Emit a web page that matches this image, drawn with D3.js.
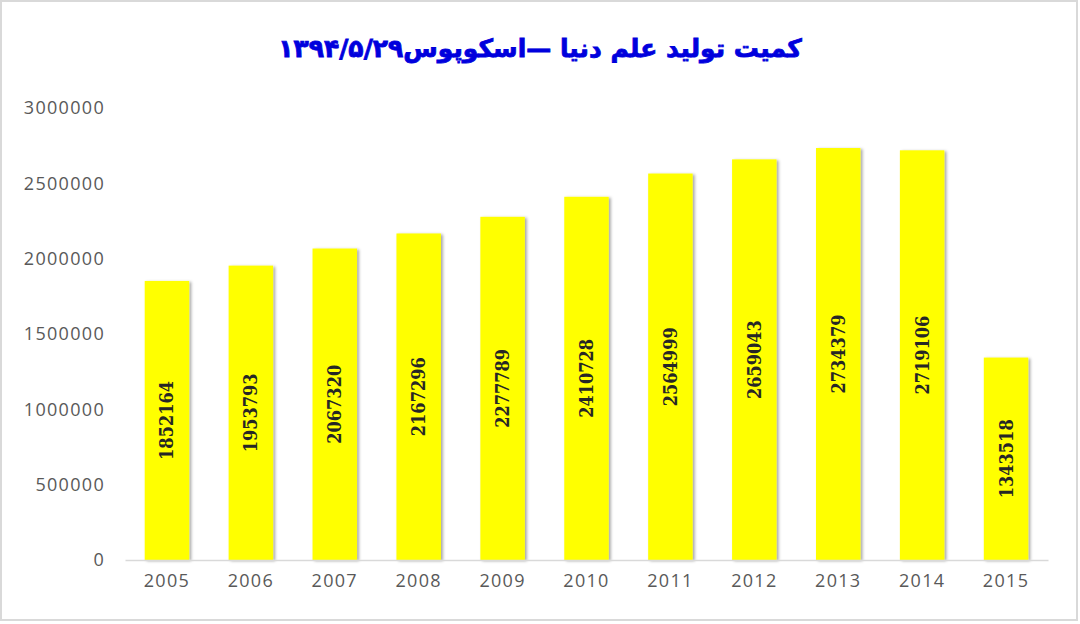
<!DOCTYPE html>
<html>
<head>
<meta charset="utf-8">
<script src="https://cdn.jsdelivr.net/npm/d3@7"></script>
<style>
  body { margin: 0; background: #fff; }
  svg text { font-family: "Open Sans", "Noto Sans", sans-serif; }
</style>
</head>
<body>
<svg id="chart"></svg>
<script>
const years = ["2005", "2006", "2007", "2008", "2009", "2010", "2011", "2012", "2013", "2014", "2015"];
const docs = [1852164, 1953793, 2067320, 2167296, 2277789, 2410728, 2564999, 2659043, 2734379, 2719106, 1343518];
const yTicks = [0, 500000, 1000000, 1500000, 2000000, 2500000, 3000000];
const title = "کمیت تولید علم دنیا —اسکوپوس۱۳۹۴/۵/۲۹";

const width = 1080, height = 624;
const margin = { top: 108, right: 32, bottom: 64, left: 125 };

const svg = d3.select("#chart")
  .attr("width", width)
  .attr("height", height);

// outer frame
svg.append("rect")
  .attr("x", 1).attr("y", 1)
  .attr("width", width - 4).attr("height", height - 5)
  .attr("fill", "#fff")
  .attr("stroke", "#d9d9d9")
  .attr("stroke-width", 2);

// soft shadow for the bars
const defs = svg.append("defs");
const shadow = defs.append("filter")
  .attr("id", "bar-shadow")
  .attr("x", "-20%").attr("y", "-5%")
  .attr("width", "150%").attr("height", "115%");
shadow.append("feDropShadow")
  .attr("dx", 2).attr("dy", 1)
  .attr("stdDeviation", 1.5)
  .attr("flood-color", "#000")
  .attr("flood-opacity", 0.35);

const x = d3.scaleBand()
  .domain(years)
  .range([margin.left, width - margin.right])
  .paddingInner(0.47)
  .paddingOuter(0.235);

const y = d3.scaleLinear()
  .domain([0, 3000000])
  .range([height - margin.bottom, margin.top]);

// title
svg.append("text")
  .attr("x", width / 2)
  .attr("y", 57)
  .attr("text-anchor", "middle")
  .attr("direction", "rtl")
  .style("font-family", "'DejaVu Sans', sans-serif")
  .style("font-weight", "bold")
  .style("font-size", "25px")
  .attr("fill", "#0000dd")
  .attr("stroke", "#0000dd")
  .attr("stroke-width", 0.8)
  .text(title);

// y axis (labels only)
const yAxis = svg.append("g")
  .attr("transform", `translate(${margin.left},0)`)
  .call(d3.axisLeft(y).tickValues(yTicks).tickFormat(d3.format("d")).tickSize(0).tickPadding(20));
yAxis.select(".domain").remove();
yAxis.selectAll("text")
  .attr("fill", "#595959")
  .style("font-size", "18px")
  .style("letter-spacing", "1.3px");

// bars
svg.append("g")
  .selectAll("rect")
  .data(docs)
  .join("rect")
  .attr("x", (d, i) => x(years[i]))
  .attr("y", d => y(d))
  .attr("width", x.bandwidth())
  .attr("height", d => y(0) - y(d))
  .attr("fill", "#ffff00")
  .attr("filter", "url(#bar-shadow)");

// x axis
const xAxis = svg.append("g")
  .attr("transform", `translate(0,${y(0)})`)
  .call(d3.axisBottom(x).tickSize(0).tickPadding(14));
xAxis.select(".domain")
  .attr("stroke", "#d9d9d9")
  .attr("stroke-width", 1.5);
xAxis.selectAll("text")
  .attr("fill", "#595959")
  .style("font-size", "18px")
  .style("letter-spacing", "1.3px");

// value labels inside bars, rotated
svg.append("g")
  .selectAll("text")
  .data(docs)
  .join("text")
  .attr("transform", (d, i) => {
    const cx = x(years[i]) + x.bandwidth() / 2;
    const cy = (y(d) + y(0)) / 2;
    return `translate(${cx},${cy}) rotate(-90)`;
  })
  .attr("text-anchor", "middle")
  .attr("dominant-baseline", "central")
  .style("font-family", "'DejaVu Serif Condensed', 'DejaVu Serif', serif")
  .style("font-weight", "bold")
  .style("font-size", "18px")
  .attr("fill", "#262626")
  .text(d => d);
</script>
</body>
</html>
